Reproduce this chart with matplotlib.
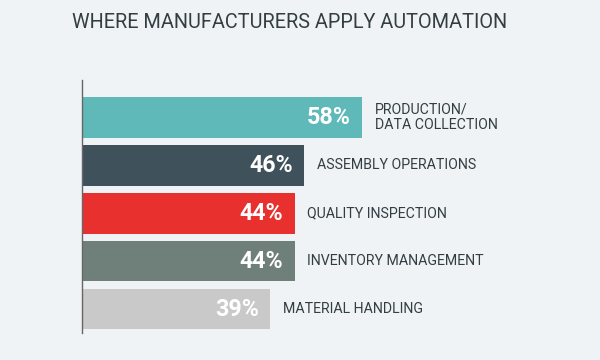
import matplotlib
matplotlib.use("Agg")
import matplotlib.pyplot as plt

# -----------------------------
# Data
# -----------------------------
categories = ["PRODUCTION/\nDATA COLLECTION", "ASSEMBLY OPERATIONS", "QUALITY INSPECTION",
              "INVENTORY MANAGEMENT", "MATERIAL HANDLING"]
values = [58, 46, 44, 44, 39]
colors = ["#5fb9b8", "#3f525b", "#e8302f", "#6f7f7a", "#c9c9c9"]

bg = "#eff3f6"
text_color = "#333d42"
font = "Roboto"

# -----------------------------
# Figure
# -----------------------------
fig = plt.figure(figsize=(6, 3.6), dpi=100, facecolor=bg)
renderer = fig.canvas.get_renderer()


def fit_size(s, target_px, weight="normal"):
    # font size giving the wanted pixel width
    t = fig.text(0, 0, s, fontsize=10, family=font, fontweight=weight)
    w = t.get_window_extent(renderer).width
    t.remove()
    return 10 * target_px / w


# reference uses a condensed face, so go a little wider to get closer heights
title_fs = fit_size("WHERE MANUFACTURERS APPLY AUTOMATION", 413) * 1.05
cat_fs = fit_size("INVENTORY MANAGEMENT", 160) * 1.1
val_fs = fit_size("58%", 39, "bold") * 1.12

ax = fig.add_axes([82 / 600, 1 - 333 / 360, 518 / 600, 253 / 360])
ax.set_facecolor(bg)

pos = list(range(len(values)))
ax.barh(pos, values, height=0.85, color=colors)
ax.set_xlim(0, 518 / 4.83)
ax.set_ylim(4.5, -0.78)

for i, v in enumerate(values):
    ax.annotate(f"{v}%", (v, i), xytext=(-8, 0), textcoords="offset points",
                ha="right", va="center", color="white", fontsize=val_fs,
                fontweight="bold", family=font)
    ax.annotate(categories[i], (v, i), xytext=(9, 0), textcoords="offset points",
                ha="left", va="center", color=text_color, fontsize=cat_fs,
                family=font, linespacing=1.1)

for s in ["top", "right", "bottom"]:
    ax.spines[s].set_visible(False)
ax.spines["left"].set_color("#666666")
ax.spines["left"].set_linewidth(1)
ax.set_xticks([])
ax.set_yticks([])

fig.text(72 / 600, 1 - 22 / 360, "WHERE MANUFACTURERS APPLY AUTOMATION",
         ha="left", va="center", fontsize=title_fs, color=text_color, family=font)

fig.savefig("out.png", dpi=100, facecolor=bg)
